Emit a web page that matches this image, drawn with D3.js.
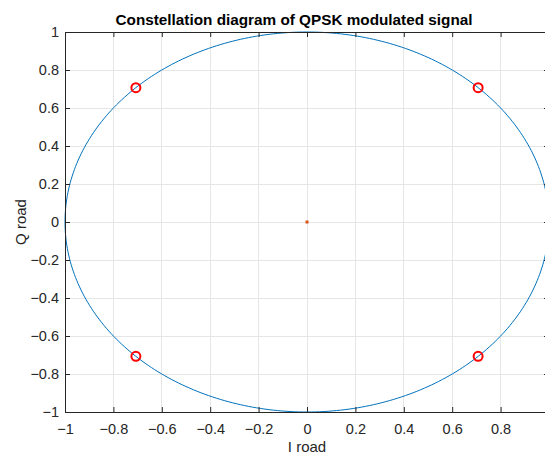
<!DOCTYPE html>
<html><head><meta charset="utf-8">
<script src="https://cdn.jsdelivr.net/npm/d3@7"></script>
<style>body{margin:0;background:#fff;} svg{display:block;font-family:"Liberation Sans",Arial,sans-serif;}</style>
</head><body>
<svg id="c" width="545" height="457"></svg>
<script>
const xTicks = [-1,-0.8,-0.6,-0.4,-0.2,0,0.2,0.4,0.6,0.8];
const yTicks = [-1,-0.8,-0.6,-0.4,-0.2,0,0.2,0.4,0.6,0.8,1];
const symbolsI = [0.7071,-0.7071,-0.7071,0.7071];
const symbolsQ = [0.7071,0.7071,-0.7071,-0.7071];
const originI = [0];
const originQ = [0];
const circleAngles = d3.range(0, 361, 1); // degrees for the unit circle reference
const title = "Constellation diagram of QPSK modulated signal";
const xLabel = "I road", yLabel = "Q road";

const svg = d3.select("#c");
const L = 65, R = 549, T = 32, B = 412;
const x = d3.scaleLinear().domain([-1,1]).range([L,R]);
const y = d3.scaleLinear().domain([-1,1]).range([B,T]);
const axCol = "#262626";

// grid
const g = svg.append("g");
g.selectAll(".gx").data(xTicks).join("line")
 .attr("x1",d=>x(d)).attr("x2",d=>x(d)).attr("y1",T).attr("y2",B)
 .attr("stroke","#e6e6e6").attr("stroke-width",1).attr("shape-rendering","crispEdges");
g.selectAll(".gy").data(yTicks).join("line")
 .attr("y1",d=>y(d)).attr("y2",d=>y(d)).attr("x1",L).attr("x2",R)
 .attr("stroke","#e6e6e6").attr("stroke-width",1).attr("shape-rendering","crispEdges");

// unit circle
const line = d3.line().x(a=>x(Math.cos(a*Math.PI/180))).y(a=>y(Math.sin(a*Math.PI/180)));
svg.append("path").attr("d",line(circleAngles)).attr("fill","none")
 .attr("stroke","#0072BD").attr("stroke-width",1);

// origin marker
svg.selectAll(".o").data(originI).join("rect")
 .attr("x",(d,i)=>x(d)-1.5).attr("y",(d,i)=>y(originQ[i])-1.5)
 .attr("width",3).attr("height",3).attr("fill","#D95319");

// symbols
svg.selectAll(".s").data(symbolsI).join("circle")
 .attr("cx",d=>x(d)).attr("cy",(d,i)=>y(symbolsQ[i])).attr("r",4.5)
 .attr("fill","none").attr("stroke","#ff0000").attr("stroke-width",2);

// axes
const xa = svg.append("g").attr("transform",`translate(0,${B})`)
 .call(d3.axisBottom(x).tickValues(xTicks).tickSize(-5).tickPadding(12).tickFormat(d3.format("")));
const xt = svg.append("g").attr("transform",`translate(0,${T})`)
 .call(d3.axisTop(x).tickValues(xTicks).tickSize(-5).tickFormat(""));
const ya = svg.append("g").attr("transform",`translate(${L},0)`)
 .call(d3.axisLeft(y).tickValues(yTicks).tickSize(-5).tickPadding(6).tickFormat(d3.format("")));
const yr = svg.append("g").attr("transform",`translate(${R},0)`)
 .call(d3.axisRight(y).tickValues(yTicks).tickSize(-5).tickFormat(""));
[xa,xt,ya,yr].forEach(a=>{
  a.selectAll("path").attr("stroke",axCol).attr("stroke-width",1);
  a.selectAll("line").attr("stroke",axCol);
  a.selectAll("text").attr("fill",axCol).style("font-size","14.5px").style("font-family","Liberation Sans, Arial, sans-serif");
});

svg.append("text").attr("x",294).attr("y",25).attr("text-anchor","middle")
 .style("font-size","15.3px").style("font-weight","bold").attr("fill","#000").text(title);
svg.append("text").attr("x",307).attr("y",452).attr("text-anchor","middle")
 .style("font-size","15px").attr("fill",axCol).text(xLabel);
svg.append("text").attr("transform","translate(26,222) rotate(-90)").attr("text-anchor","middle")
 .style("font-size","15px").attr("fill",axCol).text(yLabel);
</script>
</body></html>
